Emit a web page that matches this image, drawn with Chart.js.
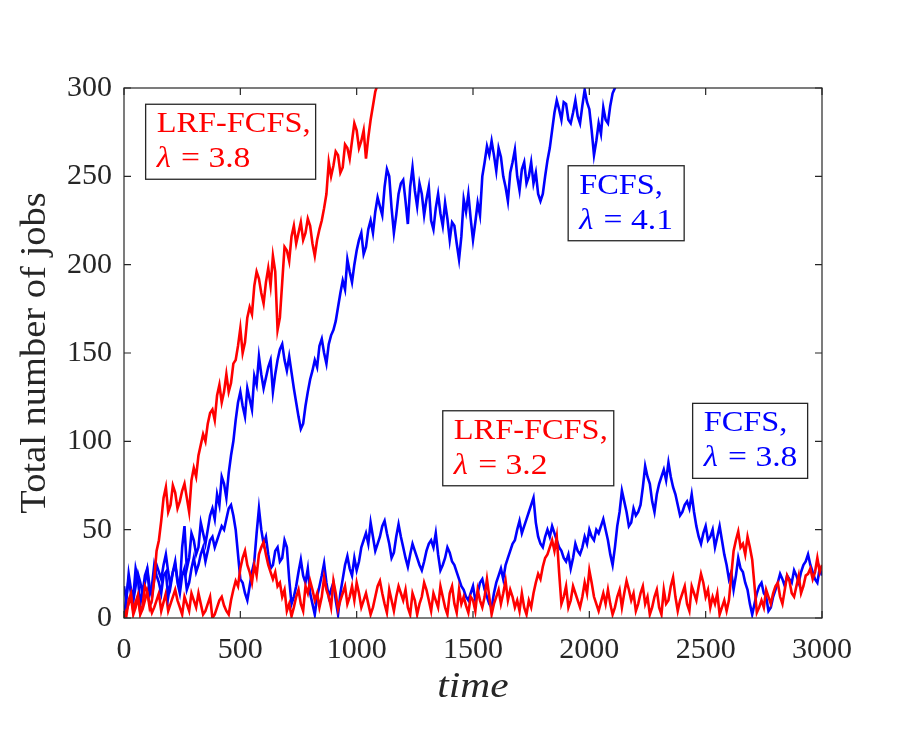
<!DOCTYPE html>
<html>
<head>
<meta charset="utf-8">
<script src="https://cdn.jsdelivr.net/npm/chart.js@4.4.0/dist/chart.umd.min.js"></script>
<style>
  html, body { margin: 0; padding: 0; background: #fff; }
</style>
</head>
<body>
<canvas id="myChart" width="913" height="751"></canvas>
<script>
// sample spacing of the simulated paths (time units)
var step = 10;

var xTicks = [0, 500, 1000, 1500, 2000, 2500, 3000];
var yTicks = [0, 50, 100, 150, 200, 250, 300];

// LRF-FCFS, lambda = 3.8 (leaves the plot near t = 1100)
var lrf38 = [2,1,10,14,4,9,13,3,7,18,15,6,10,22,38,44,55,68,74,60,
  64,75,71,62,66,72,76,68,60,78,85,80,92,98,104,100,110,116,118,112,
  126,132,122,128,138,128,133,144,146,154,164,150,156,170,176,172,188,196,192,184,
  178,190,198,188,205,196,163,170,190,210,208,202,216,222,212,218,224,214,218,226,
  222,212,205,214,220,225,232,240,258,250,256,264,262,252,255,268,266,260,270,280,
  276,266,270,276,260,272,282,290,298,302,308,312,318];

// FCFS, lambda = 4.1
var fcfs41 = [18,10,25,16,12,28,22,8,15,20,27,14,18,30,24,20,14,24,26,12,
  20,26,30,22,18,40,52,28,34,48,44,36,40,54,48,42,50,58,62,56,
  70,64,80,76,68,82,92,100,112,122,128,120,114,130,124,118,137,132,148,138,
  130,136,142,146,128,138,146,152,155,146,140,148,139,130,122,114,107,110,120,128,
  135,140,146,142,154,158,150,144,155,160,163,168,176,184,191,186,203,196,190,200,
  208,214,218,206,210,220,225,218,230,238,233,228,244,254,250,232,218,228,240,246,
  248,236,223,244,255,242,233,246,240,228,237,244,225,220,232,240,229,222,235,226,
  214,224,222,212,203,216,237,230,240,226,214,224,235,228,250,258,267,262,270,262,
  253,266,261,250,244,236,252,258,265,250,242,254,258,246,250,258,246,252,240,236,
  240,250,259,266,276,286,293,288,282,292,291,282,280,286,293,284,280,290,299,292,
  288,276,262,270,280,274,289,282,280,290,297,300,306,310,316];

// FCFS, lambda = 3.8
var fcfs38 = [0,12,22,14,10,18,25,20,14,24,28,18,12,22,30,26,22,30,36,26,
  18,26,32,20,14,24,28,16,20,28,34,26,30,36,40,32,38,44,46,40,
  44,48,52,50,56,62,64,58,50,36,22,20,14,10,18,26,32,48,62,50,
  42,46,36,28,30,38,40,32,34,44,40,22,8,12,18,26,33,24,20,28,
  14,8,2,12,18,24,31,20,12,16,20,10,2,14,22,30,35,28,24,34,
  27,32,40,44,48,42,54,46,38,42,46,52,55,48,42,34,37,46,53,46,
  40,34,29,36,42,38,34,30,27,32,38,42,44,40,48,36,27,30,34,40,
  37,32,30,26,22,18,16,12,10,14,18,10,14,20,22,16,12,8,6,14,
  20,24,28,22,30,34,38,42,44,50,55,48,52,56,60,64,68,54,46,42,
  40,46,50,46,52,48,44,40,38,34,32,36,28,34,42,38,36,40,46,42,
  50,46,44,50,48,52,56,50,44,36,30,40,52,60,72,66,60,52,54,62,
  58,60,64,74,86,80,76,66,60,70,76,80,84,78,88,80,74,70,64,58,
  60,64,66,62,70,60,52,46,42,48,52,44,46,50,40,46,52,44,36,30,
  22,26,16,24,34,28,26,20,16,8,2,8,14,18,20,14,12,4,6,12,
  16,20,25,22,18,24,22,20,27,24,20,26,30,32,36,30,26,22,20,28,
  24];

// LRF-FCFS, lambda = 3.2
var lrf32 = [0,4,8,12,2,6,12,2,5,10,15,8,3,6,10,14,4,9,14,4,
  8,12,16,10,6,2,12,8,4,14,10,6,14,8,2,4,8,12,0,2,
  6,10,12,7,4,2,10,16,21,18,28,34,38,30,26,20,30,24,36,40,
  43,36,30,26,22,26,18,20,12,16,4,8,1,6,12,16,8,4,18,14,
  21,16,10,14,6,12,23,16,12,6,21,14,5,10,14,18,8,12,18,10,
  20,14,6,10,14,8,2,6,12,18,21,14,8,3,16,10,4,12,18,14,
  10,16,6,2,14,10,2,8,12,20,16,10,4,14,10,6,18,12,6,2,
  14,18,8,3,16,8,12,7,3,12,10,4,16,10,6,12,22,12,2,8,
  12,16,8,14,21,10,16,12,6,10,4,14,6,2,10,6,14,20,25,22,
  29,34,36,40,44,38,46,26,8,12,18,6,10,18,14,10,6,12,20,14,
  27,20,12,8,4,9,14,8,16,8,2,6,12,16,6,14,21,16,10,14,
  4,8,14,18,8,12,2,6,12,16,6,2,16,8,10,18,23,12,4,10,
  14,18,8,4,18,14,10,18,25,20,12,16,6,12,8,14,2,6,10,4,
  10,24,38,44,49,40,42,36,46,40,33,18,3,6,10,6,16,12,8,14,
  18,20,12,8,16,24,21,14,12,18,24,14,18,24,25,28,22,26,34,26,
  30];

var notes = [
  { title: 'LRF-FCFS,', rate: '3.8', color: '#ff0000', t: 93, v: 290.8, w: 170 },
  { title: 'FCFS,', rate: '4.1', color: '#0000ff', t: 1909, v: 256, w: 116 },
  { title: 'LRF-FCFS,', rate: '3.2', color: '#ff0000', t: 1370, v: 117.3, w: 171 },
  { title: 'FCFS,', rate: '3.8', color: '#0000ff', t: 2444, v: 121.5, w: 115 }
];

function toPoints(vals) {
  return vals.map(function (v, i) { return { x: i * step, y: v }; });
}

var axisColor = '#262626';
var serif = '"Liberation Serif", "Times New Roman", serif';

function stretchText(ctx, text, x, y, sx) {
  ctx.save();
  ctx.translate(x, y);
  ctx.scale(sx, 1);
  ctx.fillText(text, 0, 0);
  ctx.restore();
}

var framePlugin = {
  id: 'frame',
  afterDatasetsDraw: function (chart) {
    var ctx = chart.ctx;
    var a = chart.chartArea;
    var xs = chart.scales.x, ys = chart.scales.y;
    ctx.save();
    ctx.strokeStyle = axisColor;
    ctx.lineWidth = 1.2;
    ctx.strokeRect(a.left, a.top, a.right - a.left, a.bottom - a.top);
    var tl = 7;
    ctx.beginPath();
    xTicks.forEach(function (t) {
      var px = xs.getPixelForValue(t);
      ctx.moveTo(px, a.bottom); ctx.lineTo(px, a.bottom - tl);
      ctx.moveTo(px, a.top); ctx.lineTo(px, a.top + tl);
    });
    yTicks.forEach(function (t) {
      var py = ys.getPixelForValue(t);
      ctx.moveTo(a.left, py); ctx.lineTo(a.left + tl, py);
      ctx.moveTo(a.right, py); ctx.lineTo(a.right - tl, py);
    });
    ctx.stroke();

    // axis titles
    ctx.fillStyle = axisColor;
    ctx.textBaseline = 'middle';
    ctx.textAlign = 'center';
    ctx.font = 'italic 36px ' + serif;
    stretchText(ctx, 'time', (a.left + a.right) / 2, 688, 1.15);
    ctx.save();
    ctx.translate(36, (a.top + a.bottom) / 2);
    ctx.rotate(-Math.PI / 2);
    ctx.font = '35px ' + serif;
    stretchText(ctx, 'Total number of jobs', 0, 0, 1.1);
    ctx.restore();

    // boxed labels
    ctx.textAlign = 'left';
    ctx.textBaseline = 'alphabetic';
    notes.forEach(function (n) {
      var bx = xs.getPixelForValue(n.t);
      var by = ys.getPixelForValue(n.v);
      var bh = 75;
      ctx.fillStyle = '#ffffff';
      ctx.fillRect(bx, by, n.w, bh);
      ctx.strokeStyle = '#262626';
      ctx.lineWidth = 1.3;
      ctx.strokeRect(bx, by, n.w, bh);
      ctx.fillStyle = n.color;
      ctx.font = '30px ' + serif;
      stretchText(ctx, n.title, bx + 11, by + 28, 1.08);
      ctx.font = 'italic 30px ' + serif;
      stretchText(ctx, '\u03bb', bx + 11, by + 63, 1.08);
      var lw = ctx.measureText('\u03bb').width * 1.08;
      ctx.font = '30px ' + serif;
      stretchText(ctx, ' = ' + n.rate, bx + 11 + lw + 2, by + 63, 1.12);
    });
    ctx.restore();
  }
};

function series(label, vals, color, order) {
  return {
    label: label,
    data: toPoints(vals),
    borderColor: color,
    borderWidth: 2.6,
    pointRadius: 0,
    tension: 0,
    fill: false,
    order: order
  };
}

var ctx = document.getElementById('myChart').getContext('2d');
var chart = new Chart(ctx, {
  type: 'line',
  data: {
    datasets: [
      series('LRF-FCFS, \u03bb = 3.8', lrf38, '#ff0000', 1),
      series('FCFS, \u03bb = 4.1', fcfs41, '#0000ff', 2),
      series('LRF-FCFS, \u03bb = 3.2', lrf32, '#ff0000', 3),
      series('FCFS, \u03bb = 3.8', fcfs38, '#0000ff', 4)
    ]
  },
  options: {
    responsive: false,
    animation: false,
    devicePixelRatio: 1,
    layout: { padding: { top: 88, right: 91, left: 0, bottom: 0 } },
    plugins: {
      legend: { display: false },
      tooltip: { enabled: false }
    },
    scales: {
      x: {
        type: 'linear',
        min: 0,
        max: 3000,
        afterFit: function (s) { s.height = 133; },
        afterBuildTicks: function (s) { s.ticks = xTicks.map(function (v) { return { value: v }; }); },
        grid: { display: false, drawTicks: false },
        border: { display: false },
        ticks: {
          color: axisColor, padding: 14, maxRotation: 0,
          font: { family: serif, size: 30 },
          callback: function (v) { return String(v); }
        }
      },
      y: {
        min: 0,
        max: 300,
        afterFit: function (s) { s.width = 124; },
        afterBuildTicks: function (s) { s.ticks = yTicks.map(function (v) { return { value: v }; }); },
        grid: { display: false, drawTicks: false },
        border: { display: false },
        ticks: {
          color: axisColor, padding: 12,
          font: { family: serif, size: 30 },
          callback: function (v) { return String(v); }
        }
      }
    }
  },
  plugins: [framePlugin]
});
</script>
</body>
</html>
